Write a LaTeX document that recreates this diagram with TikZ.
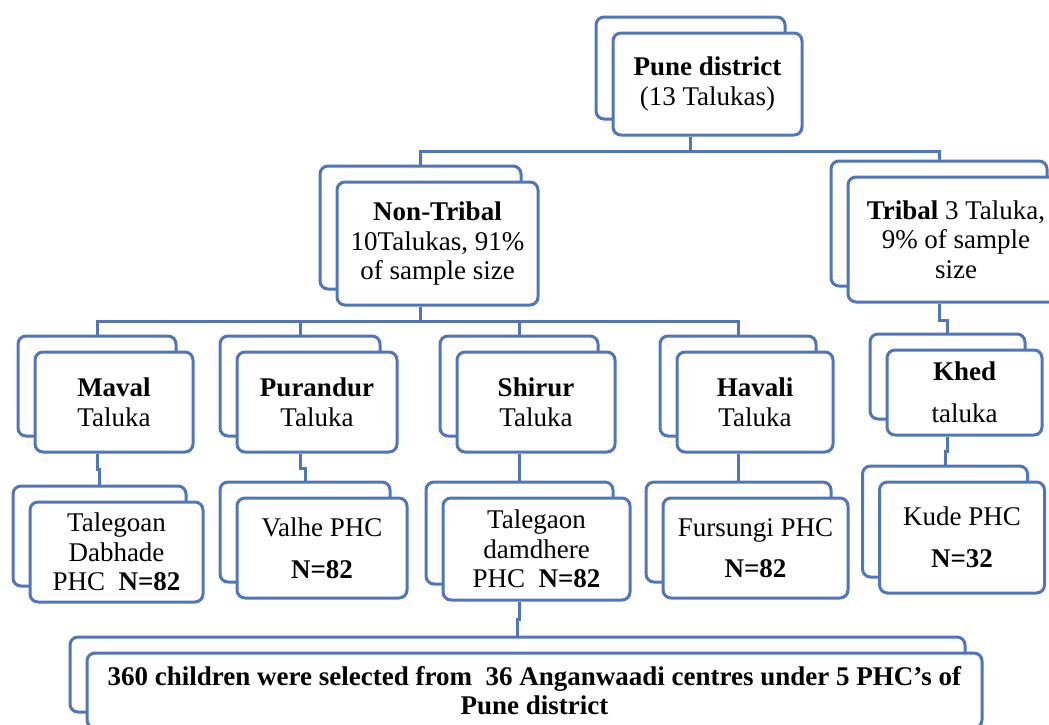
\documentclass[tikz,border=0pt]{standalone}
\usepackage{fontspec}
\setmainfont{Liberation Serif}
\usepackage{tikz}
\usetikzlibrary{shadows,calc}
\definecolor{smblue}{RGB}{80,117,187}

\begin{document}
\begin{tikzpicture}[x=0.5pt, y=-0.5pt,
  unit/.style={rectangle, rounded corners=4pt, draw=smblue, line width=1.5pt, fill=white,
    align=center, inner sep=0pt, font=\fontsize{13.5}{14.8}\selectfont,
    copy shadow={shadow xshift=-8.5pt, shadow yshift=8pt, draw=smblue, fill=white, line width=1.5pt}},
  taluka/.style={unit, minimum height=50pt},
  link/.style={smblue, line width=1.5pt},
  rear/.style={shift={(-8.5pt,8pt)}},
  mid/.style={xshift=-8.5pt}]
\useasboundingbox (0,0) rectangle (1049,724);
% district and the two groups
\node[unit, minimum width=94.5pt, minimum height=51pt] (pune) at (707.5,84) {\textbf{Pune district}\\(13 Talukas)};
\node[unit, minimum width=100.5pt, minimum height=61.5pt] (nontribal) at (437.5,243.5) {\textbf{Non-Tribal}\\10Talukas, 91\%\\of sample size};
\node[unit, minimum width=108pt, minimum height=62.5pt] (tribal) at (956,239.5) {\textbf{Tribal} 3 Taluka,\\9\% of sample\\size};
% talukas
\node[taluka, minimum width=79pt] (maval) at (114,402) {\textbf{Maval}\\Taluka};
\node[taluka, minimum width=80pt] (purandur) at (317,402) {\textbf{Purandur}\\Taluka};
\node[taluka, minimum width=79pt] (shirur) at (536,402) {\textbf{Shirur}\\Taluka};
\node[taluka, minimum width=78pt] (havali) at (755,402) {\textbf{Havali}\\Taluka};
\node[unit, minimum width=77.5pt, minimum height=42.5pt] (khed) at (964.5,392.5) {\textbf{Khed}\\[6pt]taluka};
% PHCs
\node[taluka, minimum width=86.5pt] (mavalphc) at (116.5,552) {Talegoan\\Dabhade\\PHC\ \ \textbf{N=82}};
\node[taluka, minimum width=85pt] (purandurphc) at (322,548) {Valhe PHC\\[6pt]\textbf{N=82}};
\node[taluka, minimum width=93.5pt, minimum height=51pt] (shirurphc) at (536.5,549) {Talegaon\\damdhere\\PHC\ \ \textbf{N=82}};
\node[taluka, minimum width=92.5pt] (havaliphc) at (755.5,548) {Fursungi PHC\\[6pt]\textbf{N=82}};
\node[unit, minimum width=82.5pt, minimum height=55.5pt] (khedphc) at (962,537.5) {Kude PHC\\[6pt]\textbf{N=32}};
% sample
\node[unit, minimum width=447.5pt, minimum height=37.5pt] (sample) at (534.5,690.5) {\textbf{360 children were selected from\ \ 36 Anganwaadi centres under 5 PHC’s of}\\\textbf{Pune district}};
% connectors
\draw[link] ([mid]pune.south) -- ++(0,15) -| ([rear]nontribal.north);
\draw[link] ([mid]pune.south) -- ++(0,15) -| ([rear]tribal.north);
\draw[link] ([mid]nontribal.south) -- ++(0,15) -| ([rear]maval.north);
\draw[link] ([mid]nontribal.south) -- ++(0,15) -| ([rear]purandur.north);
\draw[link] ([mid]nontribal.south) -- ++(0,15) -| ([rear]shirur.north);
\draw[link] ([mid]nontribal.south) -- ++(0,15) -| ([rear]havali.north);
\draw[link] ([mid]tribal.south) -- ++(0,17) -| ([rear]khed.north);
\draw[link] ([mid]maval.south) -- ++(0,16) -| ([rear]mavalphc.north);
\draw[link] ([mid]purandur.south) -- ++(0,15) -| ([rear]purandurphc.north);
\draw[link] ([mid]shirur.south) -- ++(0,15) -| ([rear]shirurphc.north);
\draw[link] ([mid]havali.south) -- ++(0,15) -| ([rear]havaliphc.north);
\draw[link] ([mid]khed.south) -- ++(0,15) -| ([rear]khedphc.north);
\draw[link] ([mid]shirurphc.south) -- ++(0,18) -| ([rear]sample.north);
\end{tikzpicture}
\end{document}
